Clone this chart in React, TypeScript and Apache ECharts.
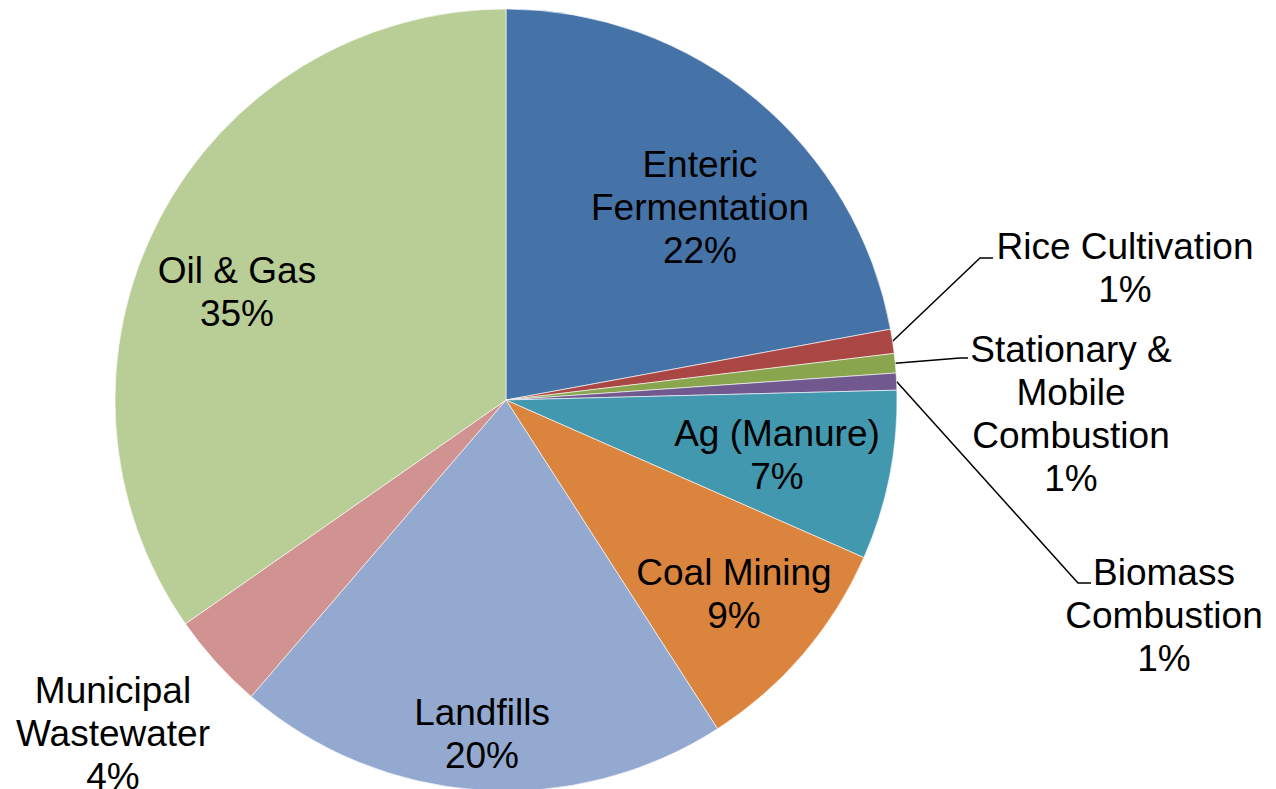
import React, { useEffect, useRef } from "react";
import * as echarts from "echarts";

const categories = [
  "Enteric\nFermentation",
  "Rice Cultivation",
  "Stationary &\nMobile\nCombustion",
  "Biomass\nCombustion",
  "Ag (Manure)",
  "Coal Mining",
  "Landfills",
  "Municipal\nWastewater",
  "Oil & Gas",
];
const values = [22.1, 1.0, 0.8, 0.7, 7.0, 9.3, 20.4, 4.0, 34.7];
const colors = [
  "#4572A7",
  "#AA4643",
  "#89A54E",
  "#71588F",
  "#4198AF",
  "#DB843D",
  "#93A9CF",
  "#D19392",
  "#B9CD96",
];

// label placement (layout only)
const labelPos: { x: number; y: number; bend?: [number, number]; end?: [number, number] }[] = [
  { x: 700, y: 207 },
  { x: 1125, y: 268, bend: [980, 258], end: [993, 258] },
  { x: 1071, y: 414, bend: [960, 358], end: [968, 358] },
  { x: 1164, y: 615, bend: [1078, 583], end: [1091, 583] },
  { x: 777, y: 455 },
  { x: 734, y: 594 },
  { x: 482, y: 734 },
  { x: 113, y: 733 },
  { x: 237, y: 292 },
];

export default function App() {
  const ref = useRef<HTMLDivElement>(null);
  useEffect(() => {
    if (!ref.current) return;
    const chart = echarts.init(ref.current, undefined, { renderer: "svg" });
    chart.setOption({
      animation: false,
      backgroundColor: "#ffffff",
      series: [
        {
          type: "pie",
          center: [506, 400],
          radius: 391,
          startAngle: 90,
          clockwise: true,
          avoidLabelOverlap: false,
          data: categories.map((c, i) => ({
            name: c,
            value: values[i],
            itemStyle: { color: colors[i] },
            labelLine: { show: !!labelPos[i].bend },
          })),
          itemStyle: { borderColor: "rgba(255,255,255,0.6)", borderWidth: 1 },
          label: {
            show: true,
            position: "outside",
            formatter: (p: any) => `${p.name}\n${Math.round(p.percent)}%`,
            fontFamily: "Liberation Sans, Arial, sans-serif",
            fontSize: 37,
            lineHeight: 43,
            color: "#000000",
            align: "center",
          },
          labelLine: {
            show: true,
            lineStyle: { color: "#000000", width: 1.5 },
          },
          labelLayout: (params: any) => {
            const lp = labelPos[params.dataIndex];
            const res: any = {
              x: lp.x,
              y: lp.y,
              align: "center",
              verticalAlign: "middle",
            };
            if (lp.bend && params.labelLinePoints) {
              res.labelLinePoints = [params.labelLinePoints[0], lp.bend, lp.end];
            }
            return res;
          },
        },
      ],
    });
    return () => chart.dispose();
  }, []);
  return (
    <div
      ref={ref}
      style={{ position: "fixed", left: 0, top: 0, width: 1276, height: 789 }}
    />
  );
}
